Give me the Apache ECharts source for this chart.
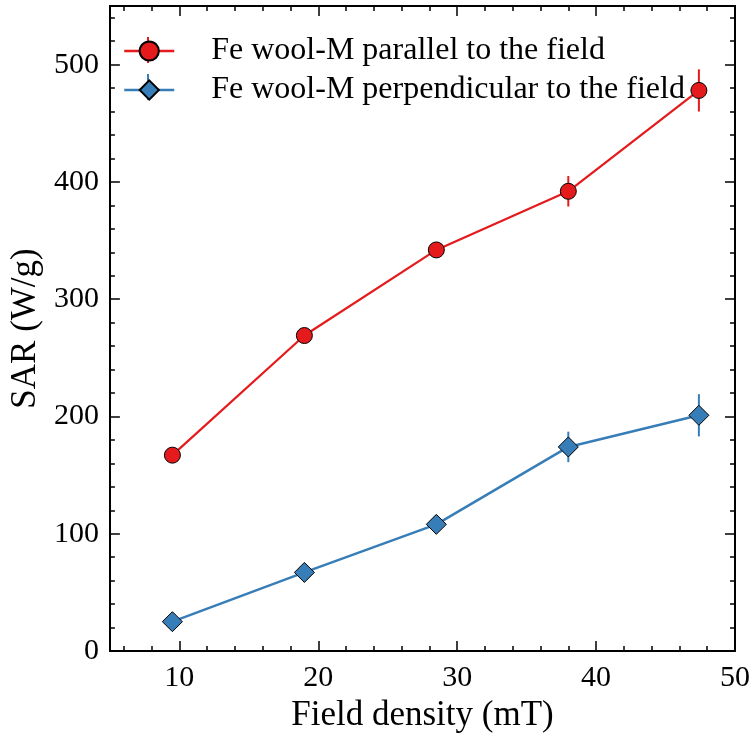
<!DOCTYPE html>
<html>
<head>
<meta charset="utf-8">
<script src="https://cdn.jsdelivr.net/npm/echarts@6/dist/echarts.min.js"></script>
<style>html,body{margin:0;padding:0;background:#fff}#c{width:753px;height:738px}</style>
</head>
<body>
<div id="c"></div>
<script>
// ---- data ----
const fieldDensity = [9.5, 19.0, 28.5, 38.0, 47.4];
const sarParallel = [167, 269, 342, 392, 478];
const errParallel = [4, 5, 5, 13, 18];
const sarPerp = [25, 67, 108, 174, 201];
const errPerp = [4, 5, 5, 13, 18];
const seriesNames = ['Fe wool-M parallel to the field', 'Fe wool-M perpendicular to the field'];
const xAxisTitle = 'Field density (mT)';
const yAxisTitle = 'SAR (W/g)';

const RED = '#e41a1c', BLUE = '#377eb8';
const FONT = 'Liberation Serif';

function pts(xs, ys) { return xs.map((x, i) => [x, ys[i]]); }
function errs(xs, ys, es) { return xs.map((x, i) => [x, ys[i], ys[i] - es[i], ys[i] + es[i]]); }

function errRender(color) {
  return function (params, api) {
    const x = api.value(0);
    const p1 = api.coord([x, api.value(2)]);
    const p2 = api.coord([x, api.value(3)]);
    return { type: 'line', shape: { x1: p1[0], y1: p1[1], x2: p2[0], y2: p2[1] },
      style: { stroke: color, lineWidth: 2 } };
  };
}

const axisCommon = {
  type: 'value',
  axisLine: { show: true, onZero: false, lineStyle: { color: '#000', width: 2 } },
  axisTick: { show: true, inside: true, length: 10, lineStyle: { color: '#000', width: 1.5 } },
  minorTick: { show: true, splitNumber: 5, length: 5, lineStyle: { color: '#000', width: 1.5 } },
  splitLine: { show: false },
  minorSplitLine: { show: false }
};

const chart = echarts.init(document.getElementById('c'), null, { renderer: 'canvas' });

const LEG_LEFT = 123, LEG_TOP = 35, LEG_ITEM_H = 30, LEG_GAP = 7, LEG_W = 50;

chart.setOption({
  backgroundColor: '#fff',
  animation: false,
  grid: { left: 106, right: 18, top: 6, bottom: 87, containLabel: false },
  legend: {
    left: LEG_LEFT, top: LEG_TOP, orient: 'vertical', padding: 0,
    itemWidth: LEG_W, itemHeight: 24, itemGap: LEG_GAP,
    data: seriesNames,
    lineStyle: { width: 2.5 },
    textStyle: { fontFamily: FONT, fontSize: 32, color: '#000', lineHeight: LEG_ITEM_H, padding: [0, 0, 0, 32] }
  },
  graphic: [
    { type: 'line', z: 1, shape: { x1: LEG_LEFT + LEG_W / 2, y1: LEG_TOP + LEG_ITEM_H / 2 - 13, x2: LEG_LEFT + LEG_W / 2, y2: LEG_TOP + LEG_ITEM_H / 2 + 13 }, style: { stroke: RED, lineWidth: 2 } },
    { type: 'line', z: 1, shape: { x1: LEG_LEFT + LEG_W / 2, y1: LEG_TOP + LEG_ITEM_H * 1.5 + LEG_GAP - 13, x2: LEG_LEFT + LEG_W / 2, y2: LEG_TOP + LEG_ITEM_H * 1.5 + LEG_GAP + 13 }, style: { stroke: BLUE, lineWidth: 2 } }
  ],
  xAxis: [
    Object.assign({}, axisCommon, {
      position: 'bottom', min: 5, max: 50,
      name: xAxisTitle, nameLocation: 'middle', nameGap: 47,
      nameTextStyle: { fontFamily: FONT, fontSize: 35, color: '#000' },
      axisLabel: { show: true, showMinLabel: false, margin: 12, fontFamily: FONT, fontSize: 30, color: '#000' }
    }),
    Object.assign({}, axisCommon, {
      position: 'top', min: 5, max: 50, axisLabel: { show: false }
    })
  ],
  yAxis: [
    Object.assign({}, axisCommon, {
      position: 'left', min: 0, max: 550,
      name: yAxisTitle, nameLocation: 'middle', nameGap: 60,
      nameTextStyle: { fontFamily: FONT, fontSize: 35, color: '#000' },
      axisLabel: { show: true, showMaxLabel: false, margin: 11, fontFamily: FONT, fontSize: 30, color: '#000' }
    }),
    Object.assign({}, axisCommon, {
      position: 'right', min: 0, max: 550, axisLabel: { show: false }
    })
  ],
  series: [
    { name: 'err-par', type: 'custom', z: 1, renderItem: errRender(RED), data: errs(fieldDensity, sarParallel, errParallel), encode: { x: 0, y: [2, 3] } },
    { name: 'err-perp', type: 'custom', z: 1, renderItem: errRender(BLUE), data: errs(fieldDensity, sarPerp, errPerp), encode: { x: 0, y: [2, 3] } },
    { name: seriesNames[0], type: 'line', z: 3, data: pts(fieldDensity, sarParallel),
      symbol: 'circle', symbolSize: 16, color: RED,
      lineStyle: { color: RED, width: 2.2 },
      itemStyle: { color: RED, borderColor: '#000', borderWidth: 1 } },
    { name: seriesNames[1], type: 'line', z: 3, data: pts(fieldDensity, sarPerp),
      symbol: 'diamond', symbolSize: 20, color: BLUE,
      lineStyle: { color: BLUE, width: 2.5 },
      itemStyle: { color: BLUE, borderColor: '#000', borderWidth: 1 } }
  ]
});
</script>
</body>
</html>
